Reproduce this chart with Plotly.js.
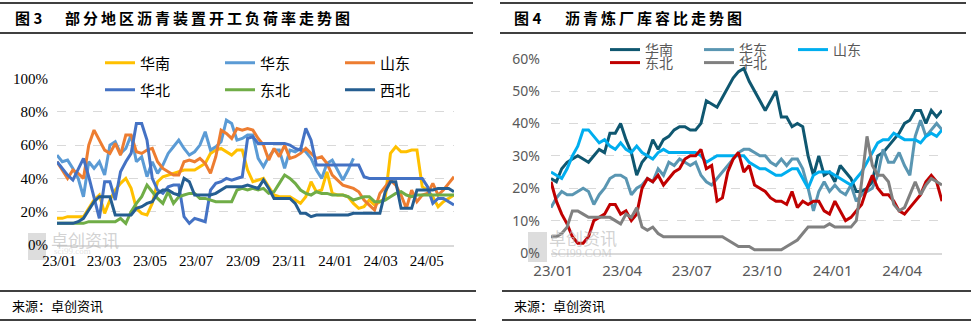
<!DOCTYPE html>
<html><head><meta charset="utf-8">
<script src="https://cdn.plot.ly/plotly-3.0.1.min.js"></script>
<style>html,body{margin:0;padding:0;background:#fff;} #chart{width:971px;height:325px;}</style>
</head><body><div id="chart"></div>
<script>
// weekly dates (categories)
const weeks = ['2022-12-29','2023-01-05','2023-01-12','2023-01-19','2023-01-26','2023-02-02','2023-02-09','2023-02-16','2023-02-23','2023-03-02','2023-03-09','2023-03-16','2023-03-23','2023-03-30','2023-04-06','2023-04-13','2023-04-20','2023-04-27','2023-05-04','2023-05-11','2023-05-18','2023-05-25','2023-06-01','2023-06-08','2023-06-15','2023-06-22','2023-06-29','2023-07-06','2023-07-13','2023-07-20','2023-07-27','2023-08-03','2023-08-10','2023-08-17','2023-08-24','2023-08-31','2023-09-07','2023-09-14','2023-09-21','2023-09-28','2023-10-05','2023-10-12','2023-10-19','2023-10-26','2023-11-02','2023-11-09','2023-11-16','2023-11-23','2023-11-30','2023-12-07','2023-12-14','2023-12-21','2023-12-28','2024-01-04','2024-01-11','2024-01-18','2024-01-25','2024-02-01','2024-02-08','2024-02-15','2024-02-22','2024-02-29','2024-03-07','2024-03-14','2024-03-21','2024-03-28','2024-04-04','2024-04-11','2024-04-18','2024-04-25','2024-05-02','2024-05-09','2024-05-16','2024-05-23','2024-05-30','2024-06-06'];
const weeksRight = weeks.slice(0, 74);

const leftTicks = ['2023-01-01','2023-03-01','2023-05-01','2023-07-01','2023-09-01','2023-11-01','2024-01-01','2024-03-01','2024-05-01'];
const rightTicks = ['2023-01-01','2023-04-01','2023-07-01','2023-10-01','2024-01-01','2024-04-01'];
const leftYTicks = [0, 20, 40, 60, 80, 100];
const leftYText = ['0%', '20%', '40%', '60%', '80%', '100%'];
const rightYTicks = [0, 10, 20, 30, 40, 50, 60];
const rightYText = ['0%', '10%', '20%', '30%', '40%', '50%', '60%'];

// 图3 部分地区沥青装置开工负荷率 (%)
const L_huanan = [16,16,17,17,17,17,22,27,30,19,27,33,37,40,34,22,19,18,25,38,41,42,43,44,45,45,45,47,49,55,57,58,56,54,57,57,45,38,39,40,35,30,29,29,29,27,25,29,38,32,33,44,31,30,30,29,25,22,23,27,24,26,28,55,59,56,56,57,57,35,33,29,23,26,28,30];
const L_huadong = [54,50,51,46,40,29,50,46,50,42,60,62,55,58,66,50,53,41,50,43,48,55,59,63,58,54,56,60,68,57,59,62,75,73,63,64,66,66,52,47,53,57,57,46,57,56,58,56,52,45,40,49,51,45,39,45,52,null,null,null,null,null,null,null,null,null,null,null,null,null,null,null,null,null,null,null];
const L_shandong = [50,45,40,45,43,40,60,69,63,57,55,61,54,66,66,56,55,57,58,50,46,44,42,42,50,51,50,52,49,43,53,69,67,64,70,69,70,69,64,60,51,58,53,60,52,53,55,58,55,52,53,49,42,39,36,35,34,32,27,24,21,31,35,39,36,30,22,33,26,30,31,37,30,33,37,41];
const L_huabei = [50,46,42,39,46,52,41,28,16,38,38,27,44,50,55,73,73,63,40,33,31,35,36,36,17,13,16,15,14,33,37,38,40,39,40,41,64,65,61,61,61,61,61,61,60,58,57,70,63,48,48,48,48,48,48,48,48,48,41,40,40,40,40,40,40,40,40,40,40,40,35,25,28,28,26,24];
const L_dongbei = [13,13,13,13,13,13,14,14,14,14,14,14,16,13,20,25,29,36,32,28,25,32,25,29,30,31,31,28,28,27,26,26,26,26,33,34,33,34,33,34,31,32,37,42,40,37,33,31,30,32,31,31,30,30,30,29,27,28,29,29,26,26,27,29,31,32,30,29,30,30,30,30,30,30,30,30];
const L_xibei = [13,13,13,13,14,16,21,26,29,29,29,18,18,18,18,22,23,25,26,31,33,33,31,30,40,38,30,30,30,30,31,33,35,35,35,35,36,35,34,39,34,28,28,28,28,25,19,19,17,18,18,18,18,18,18,18,19,19,19,19,19,19,32,38,38,22,22,22,33,33,33,33,34,34,34,32];

// 图4 沥青炼厂库容比 (%)
const R_huanan = [23,22,26,28,29,30,29,28,30,32,31,37,37,40,35,31,24,28,30,35,32,35,36,38,39,39,38,38,40,47,46,45,48,51,54,56,57,53,50,47,44,47,50,42,42,39,40,39,30,24,30,24,25,22,27,25,23,19,19,20,22,30,31,33,35,37,40,41,44,44,40,44,42,44];
const R_huadong = [14,17,19,18,18,19,20,19,15,18,20,23,24,24,23,18,20,21,23,22,26,24,28,27,29,28,27,28,24,22,21,23,25,27,29,31,32,32,31,30,30,28,27,29,27,29,29,26,20,13,19,22,19,21,19,18,21,16,18,19,20,24,32,28,28,31,27,24,36,41,36,38,40,38];
const R_shandong = [25,24,23,26,30,33,38,38,36,34,35,33,32,34,32,31,33,31,30,29,31,32,31,31,31,31,31,31,30,28,29,30,30,30,30,30,30,28,27,26,26,25,24,24,25,26,26,23,20,24,25,25,25,24,23,22,21,23,25,28,31,34,35,35,37,36,35,35,35,34,36,37,36,38];
const R_dongbei = [22,16,12,9,5,3,3,5,10,11,12,15,15,12,13,10,12,20,23,22,24,21,23,25,26,29,30,30,32,26,27,16,17,25,29,31,25,27,21,20,19,17,16,16,15,19,14,16,15,16,16,13,12,16,13,10,11,13,15,20,24,20,18,18,16,13,12,14,16,18,22,24,22,16];
const R_huabei = [5,5,6,8,13,13,12,11,11,11,11,11,10,9,12,11,14,8,7,8,6,5,5,5,5,5,5,5,5,5,5,5,5,4,3,2,2,2,1,1,1,1,1,1,2,3,4,6,8,8,8,8,9,8,8,8,8,10,22,36,27,24,24,22,15,13,14,18,22,18,21,23,22,21];

const W = 971, H = 325;
const px = v => v / W;
const py = v => 1 - v / H;

function line(name, x, y, color, xa, ya, legend, width) {
  return {type:'scatter', mode:'lines', name:name, x:x, y:y, xaxis:xa, yaxis:ya,
    legend:legend, line:{color:color, width:width||3}, connectgaps:false, hoverinfo:'skip'};
}

const traces = [
  line('华南', weeks, L_huanan, '#FFC000', 'x', 'y', 'legend'),
  line('华东', weeks, L_huadong, '#5B9BD5', 'x', 'y', 'legend'),
  line('山东', weeks, L_shandong, '#ED7D31', 'x', 'y', 'legend'),
  line('华北', weeks, L_huabei, '#4472C4', 'x', 'y', 'legend2'),
  line('东北', weeks, L_dongbei, '#70AD47', 'x', 'y', 'legend2'),
  line('西北', weeks, L_xibei, '#255E91', 'x', 'y', 'legend2'),
  line('华南', weeksRight, R_huanan, '#0F5770', 'x2', 'y2', 'legend3'),
  line('华东', weeksRight, R_huadong, '#5A96B2', 'x2', 'y2', 'legend3'),
  line('山东', weeksRight, R_shandong, '#00AEEF', 'x2', 'y2', 'legend3'),
  line('东北', weeksRight, R_dongbei, '#C00000', 'x2', 'y2', 'legend4'),
  line('华北', weeksRight, R_huabei, '#808080', 'x2', 'y2', 'legend4')
];

const serif = '"Liberation Serif", "DejaVu Serif", serif';
const cjk = '"Noto Sans CJK SC", "Noto Sans", sans-serif';
const sans = '"Noto Sans", "Noto Sans CJK SC", sans-serif';

function legendCfg(x, y, ew, size, color) {
  return {x:px(x), xanchor:'left', y:py(y), yanchor:'middle', orientation:'h',
    entrywidth:ew, entrywidthmode:'pixels', itemwidth:30, bgcolor:'rgba(0,0,0,0)',
    borderwidth:0, font:{family:cjk, size:size, color:color}, traceorder:'normal'};
}

function hline(x0, x1, y, w) {
  return {type:'line', xref:'paper', yref:'paper', x0:px(x0), x1:px(x1), y0:py(y), y1:py(y),
    line:{color:'#000', width:w||1.5}};
}
function note(text, x, y, font, anchor) {
  return {text:text, xref:'paper', yref:'paper', x:px(x), y:py(y), xanchor:anchor||'left',
    yanchor:'middle', showarrow:false, font:font};
}

const layout = {
  width:W, height:H, margin:{l:0, r:0, t:0, b:0}, paper_bgcolor:'#fff', plot_bgcolor:'rgba(0,0,0,0)',
  showlegend:true,
  xaxis:{domain:[px(57), px(454)], type:'date', range:[weeks[0], weeks[75]], tickvals:leftTicks,
    tickformat:'%y/%m', showgrid:false, showline:true, linecolor:'#D9D9D9', linewidth:1.5, ticks:'',
    tickfont:{family:serif, size:15, color:'#000'}, ticklabelstandoff:1, anchor:'y', zeroline:false},
  yaxis:{domain:[py(245), py(78)], range:[0, 100.3], tickmode:'array', tickvals:leftYTicks, ticktext:leftYText,
    showgrid:true, gridcolor:'#D9D9D9', griddash:'dash', gridwidth:1, zeroline:false, showline:false,
    tickfont:{family:serif, size:15, color:'#000'}, ticklabelstandoff:8, anchor:'x'},
  xaxis2:{domain:[px(551), px(942)], type:'date', range:[weeksRight[0], weeksRight[73]], tickvals:rightTicks,
    tickformat:'%y/%m', showgrid:false, showline:true, linecolor:'#D9D9D9', linewidth:1.5, ticks:'',
    tickfont:{family:sans, size:15, color:'#595959'}, ticklabelstandoff:3, anchor:'y2', zeroline:false},
  yaxis2:{domain:[py(253), py(58)], range:[0, 60.2], tickmode:'array', tickvals:rightYTicks, ticktext:rightYText,
    showgrid:true, gridcolor:'#D9D9D9', griddash:'dash', gridwidth:1, zeroline:false, showline:false,
    tickfont:{family:sans, size:14, color:'#595959'}, ticklabelstandoff:10, anchor:'x2'},
  legend:legendCfg(100, 63, 75, 15, '#000'),
  legend2:legendCfg(100, 90, 75, 15, '#000'),
  legend3:legendCfg(605, 50, 49, 14, '#595959'),
  legend4:legendCfg(605, 63, 49, 14, '#595959'),
  shapes:[
    hline(0, 473, 3), hline(0, 473, 33),
    hline(500, 966, 3), hline(500, 966, 33),
    hline(0, 476, 291), hline(0, 476, 320),
    hline(502, 971, 291), hline(502, 971, 320),
    {type:'rect', xref:'paper', yref:'paper', x0:px(28), x1:px(46), y0:py(260), y1:py(233),
      fillcolor:'#DDDDDD', line:{width:0}, layer:'below'},
    {type:'rect', xref:'paper', yref:'paper', x0:px(528), x1:px(547), y0:py(262), y1:py(232),
      fillcolor:'#DDDDDD', line:{width:0}, layer:'below'}
  ],
  annotations:[
    note('<b>图 3</b>', 13, 18, {family:cjk, size:15, color:'#000'}),
    note('<b><span style="letter-spacing:3px">部分地区沥青装置开工负荷率走势图</span></b>', 63, 18, {family:cjk, size:15, color:'#000'}),
    note('<b>图 4</b>', 512, 18, {family:cjk, size:15, color:'#000'}),
    note('<b><span style="letter-spacing:3px">沥青炼厂库容比走势图</span></b>', 563, 18, {family:cjk, size:15, color:'#000'}),
    note('来源：卓创资讯', 10, 305, {family:cjk, size:13, color:'#000'}),
    note('来源：卓创资讯', 512, 305, {family:cjk, size:13, color:'#000'}),
    note('卓创资讯', 49, 239, {family:cjk, size:17, color:'rgba(185,185,185,0.65)'}),
    note('sci99.com', 52, 251, {family:serif, size:9, color:'rgba(200,200,200,0.55)'}),
    note('卓创资讯', 547, 237, {family:cjk, size:17, color:'rgba(185,185,185,0.65)'}),
    note('SCI99.COM', 549, 253, {family:serif, size:12, color:'rgba(190,190,190,0.6)'})
  ]
};

Plotly.newPlot('chart', traces, layout, {displayModeBar:false, staticPlot:true});
</script>
</body></html>
